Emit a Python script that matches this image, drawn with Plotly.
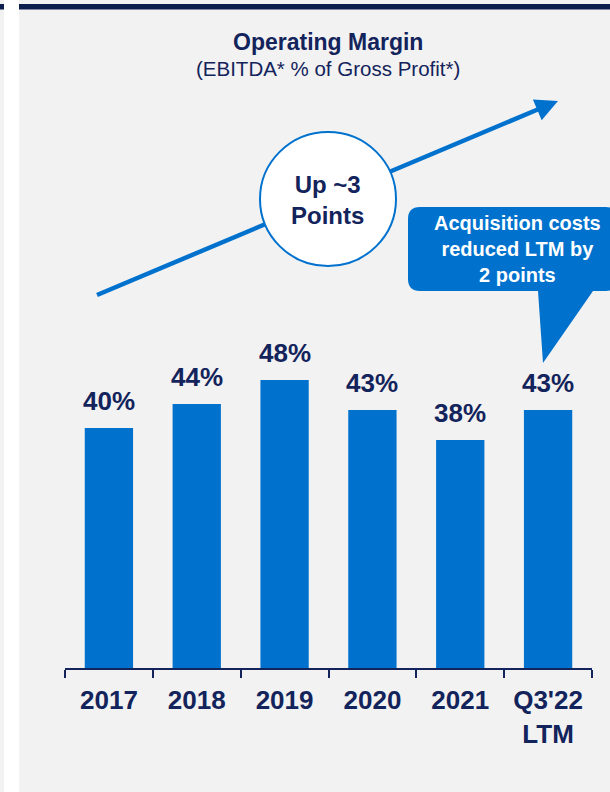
import plotly.graph_objects as go

# ---- data ----
categories = ["2017", "2018", "2019", "2020", "2021", "Q3'22<br>LTM"]
margin_pct = [40, 44, 48, 43, 38, 43]
value_labels = ["40%", "44%", "48%", "43%", "38%", "43%"]

title_text = "Operating Margin"
subtitle_text = "(EBITDA* % of Gross Profit*)"
circle_text = "Up ~3<br>Points"
callout_text = "Acquisition costs<br>reduced LTM by<br>2 points"

# ---- style ----
W, H = 610, 792
ML, MR, MT, MB = 65, 18, 20, 124
PW, PH = W - ML - MR, H - MT - MB
BLUE = "#0072CE"
NAVY = "#13235B"
TOPNAVY = "#0C1E4E"
GRAY = "#F2F2F2"
FONT = "Liberation Sans, Arial, sans-serif"


def X(px):
    return (px - ML) / PW


def Y(py):
    return (H - MB - py) / PH


fig = go.Figure()
fig.add_trace(go.Bar(
    x=categories, y=margin_pct, width=0.55,
    marker=dict(color=BLUE, line=dict(width=0)),
    hoverinfo="skip",
))

shapes = []
# backgrounds
shapes.append(dict(type="rect", xref="paper", yref="paper", x0=X(19), x1=X(W + 5), y0=Y(0), y1=Y(H + 5),
                   fillcolor=GRAY, line=dict(width=0), layer="below"))
shapes.append(dict(type="rect", xref="paper", yref="paper", x0=X(-5), x1=X(4), y0=Y(0), y1=Y(H + 5),
                   fillcolor=GRAY, line=dict(width=0), layer="below"))
# top navy rules
for a, b in [(-5, 4), (19, W + 5)]:
    shapes.append(dict(type="rect", xref="paper", yref="paper", x0=X(a), x1=X(b), y0=Y(4), y1=Y(9.5),
                       fillcolor=TOPNAVY, line=dict(width=0), layer="above"))
# trend line
shapes.append(dict(type="line", xref="paper", yref="paper", x0=X(97), y0=Y(295), x1=X(546), y1=Y(106),
                   line=dict(color=BLUE, width=4.5), layer="above"))
# circle
shapes.append(dict(type="circle", xref="paper", yref="paper", x0=X(260), x1=X(396), y0=Y(266), y1=Y(132),
                   fillcolor="white", line=dict(color=BLUE, width=2), layer="above"))
# callout bubble
L, R, T, B, r = 408, 618, 207, 291, 12
pts = [
    ("M", X(L + r), Y(T)), ("L", X(R - r), Y(T)),
    ("Q", X(R), Y(T), X(R), Y(T + r)), ("L", X(R), Y(B - r)),
    ("Q", X(R), Y(B), X(R - r), Y(B)), ("L", X(593), Y(B)),
    ("L", X(543), Y(363)), ("L", X(538), Y(B)), ("L", X(L + r), Y(B)),
    ("Q", X(L), Y(B), X(L), Y(B - r)), ("L", X(L), Y(T + r)),
    ("Q", X(L), Y(T), X(L + r), Y(T)),
]
path = ""
for p in pts:
    cmd = p[0]
    coords = p[1:]
    path += cmd + " " + " ".join(
        f"{coords[i]:.5f},{coords[i + 1]:.5f}" for i in range(0, len(coords), 2)) + " "
path += "Z"
shapes.append(dict(type="path", xref="paper", yref="paper", path=path,
                   fillcolor=BLUE, line=dict(width=0), layer="above"))

annotations = []
annotations.append(dict(xref="paper", yref="paper", x=X(327.5), y=Y(42), text=f"<b>{title_text}</b>",
                        showarrow=False, font=dict(family=FONT, size=23, color=NAVY),
                        xanchor="center", yanchor="middle"))
annotations.append(dict(xref="paper", yref="paper", x=X(327.5), y=Y(68), text=subtitle_text,
                        showarrow=False, font=dict(family=FONT, size=20.5, color=NAVY),
                        xanchor="center", yanchor="middle"))
# arrow head
annotations.append(dict(xref="paper", yref="paper", x=X(558), y=Y(101), ax=-18.4, ay=7.8,
                        axref="pixel", ayref="pixel", text="", showarrow=True,
                        arrowhead=2, arrowsize=1, arrowwidth=4.5, arrowcolor=BLUE, standoff=0))
annotations.append(dict(xref="paper", yref="paper", x=X(327.5), y=Y(200), text=f"<b>{circle_text}</b>",
                        showarrow=False, font=dict(family=FONT, size=24, color=NAVY),
                        xanchor="center", yanchor="middle"))
annotations.append(dict(xref="paper", yref="paper", x=X(517.5), y=Y(249.5), text=f"<b>{callout_text}</b>",
                        showarrow=False, font=dict(family=FONT, size=20, color="white"),
                        xanchor="center", yanchor="middle"))
for i, (v, lab) in enumerate(zip(margin_pct, value_labels)):
    annotations.append(dict(xref="x", yref="y", x=i, y=v, text=f"<b>{lab}</b>", showarrow=False,
                            font=dict(family=FONT, size=26, color=NAVY),
                            xanchor="center", yanchor="bottom", yshift=10))

fig.update_layout(
    width=W, height=H,
    margin=dict(l=ML, r=MR, t=MT, b=MB, pad=0),
    paper_bgcolor="white",
    plot_bgcolor="rgba(0,0,0,0)",
    showlegend=False,
    bargap=0.45,
    shapes=shapes,
    annotations=annotations,
    xaxis=dict(
        type="category", range=[-0.5, 5.5], showgrid=False, zeroline=False,
        showline=True, linecolor=NAVY, linewidth=2,
        ticks="outside", tickson="boundaries", ticklen=8, tickwidth=2, tickcolor=NAVY,
        ticklabelstandoff=8,
        tickfont=dict(family=FONT, size=26, color=NAVY),
        tickprefix="<b>", ticksuffix="</b>",
        fixedrange=True,
    ),
    yaxis=dict(range=[0, 108], visible=False, showgrid=False, zeroline=False, fixedrange=True),
)

fig.write_html("out.html", config={"displayModeBar": False},
               post_script="document.body.style.margin='0';document.body.style.overflow='hidden';")
